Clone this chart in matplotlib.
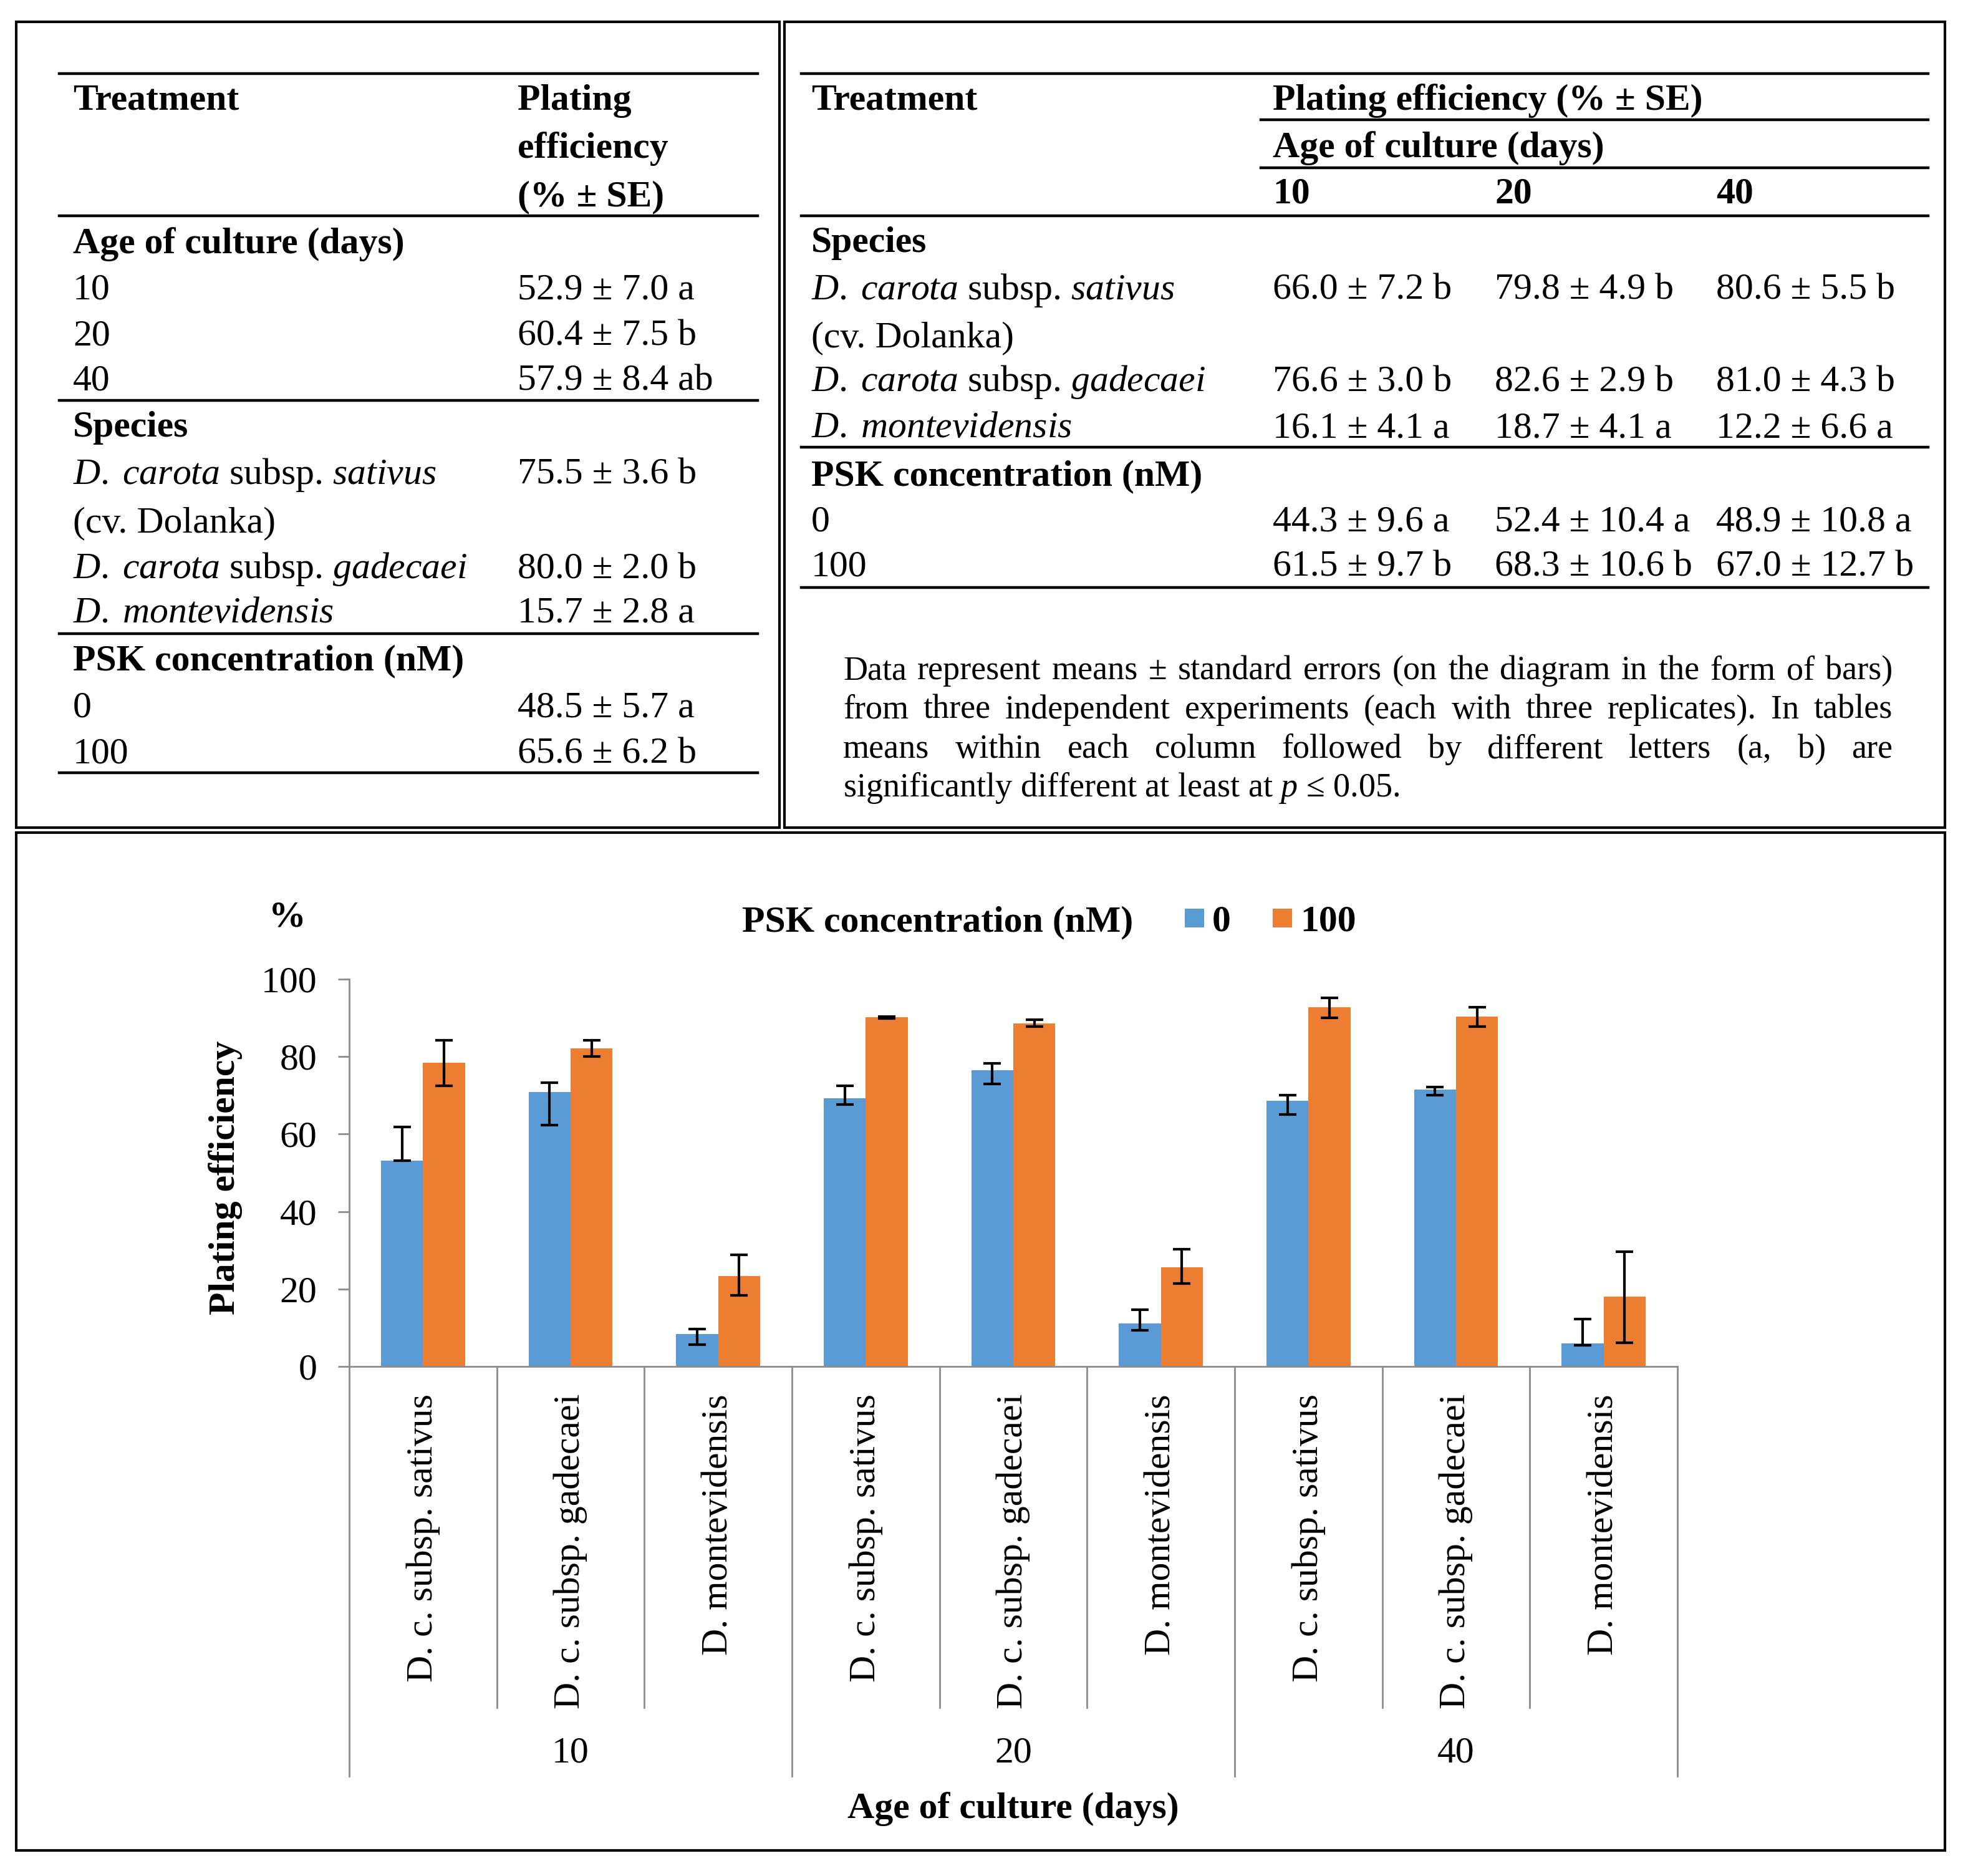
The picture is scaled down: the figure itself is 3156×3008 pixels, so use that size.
import numpy as np
import matplotlib
matplotlib.use('Agg')
import matplotlib.pyplot as plt
import matplotlib.transforms as mtransforms
from matplotlib.patches import Rectangle
from matplotlib.lines import Line2D

plt.rcParams['font.family'] = ['Liberation Serif', 'DejaVu Serif']
plt.rcParams['mathtext.fontset'] = 'custom'
plt.rcParams['mathtext.rm'] = 'Liberation Serif'
plt.rcParams['mathtext.it'] = 'Liberation Serif:italic'
plt.rcParams['mathtext.bf'] = 'Liberation Serif:bold'

# ---- chart data ----
ages = ['10', '20', '40']
species_short = ['D. c. subsp. sativus', 'D. c. subsp. gadecaei', 'D. montevidensis']
psk_levels = ['0', '100']
psk0 = [53.2, 70.8, 8.3, 69.3, 76.5, 11.1, 68.6, 71.5, 5.9]
psk100 = [78.5, 82.1, 23.3, 90.1, 88.6, 25.6, 92.7, 90.3, 18.0]
err0_minus = [0.0, 8.5, 2.7, 1.6, 3.5, 1.8, 3.6, 1.5, 0.5]
err0_plus = [8.6, 2.5, 1.4, 3.1, 1.8, 3.6, 1.5, 0.7, 6.3]
err100_minus = [6.0, 2.1, 5.0, 0.3, 0.8, 4.2, 2.7, 2.5, 11.9]
err100_plus = [5.7, 2.1, 5.5, 0.3, 1.0, 4.6, 2.5, 2.5, 11.7]

# ---- table data ----
species_long = [r'$\mathit{D.\;carota}$ subsp. $\mathit{sativus}$',
                r'$\mathit{D.\;carota}$ subsp. $\mathit{gadecaei}$',
                r'$\mathit{D.\;montevidensis}$']
left_age_vals = ['52.9 ± 7.0 a', '60.4 ± 7.5 b', '57.9 ± 8.4 ab']
left_species_vals = ['75.5 ± 3.6 b', '80.0 ± 2.0 b', '15.7 ± 2.8 a']
left_psk_vals = ['48.5 ± 5.7 a', '65.6 ± 6.2 b']
right_species_vals = [['66.0 ± 7.2 b', '79.8 ± 4.9 b', '80.6 ± 5.5 b'],
                      ['76.6 ± 3.0 b', '82.6 ± 2.9 b', '81.0 ± 4.3 b'],
                      ['16.1 ± 4.1 a', '18.7 ± 4.1 a', '12.2 ± 6.6 a']]
right_psk_vals = [['44.3 ± 9.6 a', '52.4 ± 10.4 a', '48.9 ± 10.8 a'],
                  ['61.5 ± 9.7 b', '68.3 ± 10.6 b', '67.0 ± 12.7 b']]
footnote = ['Data represent means ± standard errors (on the diagram in the form of bars)',
            'from three independent experiments (each with three replicates). In tables',
            'means within each column followed by different letters (a, b) are']
footnote_last = r'significantly different at least at $\mathit{p}$ ≤ 0.05.'

blue, orange, grey = '#5B9BD5', '#ED7D31', '#8C8C8C'

W, H = 3156, 3008
fig = plt.figure(figsize=(W / 100, H / 100), dpi=100)


def P(x, y):
    return x / W, 1 - y / H


def txt(x, y, s, size=43, **kw):
    kw.setdefault('va', 'baseline')
    return fig.text(*P(x, y), s, fontsize=size, **kw)


def hline(x0, x1, y, lw=3.2):
    fig.add_artist(Line2D([x0 / W, x1 / W], [1 - y / H, 1 - y / H], lw=lw,
                          color='black', transform=fig.transFigure))


def box(x0, y0, x1, y1):
    fig.add_artist(Rectangle(P(x0, y1), (x1 - x0) / W, (y1 - y0) / H, fill=False,
                             lw=3, ec='black', transform=fig.transFigure))


def justify(y, line, x0, x1, size=39):
    r = fig.canvas.get_renderer()
    ts = [txt(x0, y, w, size) for w in line.split()]
    ws = [t.get_window_extent(r).width for t in ts]
    gap = (x1 - x0 - sum(ws)) / (len(ws) - 1)
    x = x0
    for t, w in zip(ts, ws):
        t.set_position(P(x, y))
        x += w + gap


# frames
box(26, 35, 1250, 1327)
box(1258, 35, 3119, 1327)
box(26, 1335, 3119, 2967)

# ---- left table ----
for y in [118, 346, 642, 1016, 1239]:
    hline(95, 1215, y)
c1, c2 = 117, 830
txt(c1, 176, 'Treatment', fontweight='bold')
txt(c2, 176, 'Plating', fontweight='bold')
txt(c2, 253, 'efficiency', fontweight='bold')
txt(c2, 330, '(% ± SE)', fontweight='bold')
txt(c1, 406, 'Age of culture (days)', fontweight='bold')
for a, v, y in zip(ages, left_age_vals, [480, 553, 625]):
    txt(c1, y, a)
    txt(c2, y, v)
txt(c1, 700, 'Species', fontweight='bold')
for s, v, y in zip(species_long, left_species_vals, [776, 927, 998]):
    txt(c1, y, s)
    txt(c2, y, v)
txt(c1, 853, '(cv. Dolanka)')
txt(c1, 1074, 'PSK concentration (nM)', fontweight='bold')
for p, v, y in zip(psk_levels, left_psk_vals, [1150, 1224]):
    txt(c1, y, p)
    txt(c2, y, v)

# ---- right table ----
for y in [118, 346, 717, 942]:
    hline(1285, 3092, y)
for y in [192, 269]:
    hline(2022, 3092, y)
r1 = 1301
rc = [2041, 2397, 2752]
txt(r1, 176, 'Treatment', fontweight='bold')
txt(rc[0], 176, 'Plating efficiency (% ± SE)', fontweight='bold')
txt(rc[0], 252, 'Age of culture (days)', fontweight='bold')
for a, x in zip(ages, rc):
    txt(x, 326, a, fontweight='bold')
txt(r1, 404, 'Species', fontweight='bold')
for s, vals, y in zip(species_long, right_species_vals, [480, 627, 701]):
    txt(r1, y, s)
    for v, x in zip(vals, rc):
        txt(x, y, v)
txt(r1, 556, '(cv. Dolanka)')
txt(r1, 778, 'PSK concentration (nM)', fontweight='bold')
for p, vals, y in zip(psk_levels, right_psk_vals, [851, 923]):
    txt(r1, y, p)
    for v, x in zip(vals, rc):
        txt(x, y, v)

for line, y in zip(footnote, [1089, 1152, 1215]):
    justify(y, line, 1352, 3035)
txt(1352, 1277, footnote_last, size=39)

# ---- bar chart ----
ax = fig.add_axes([560 / W, 1 - 2191 / H, 2130 / W, 621 / H])
x = np.arange(len(psk0))
bw = 0.285
ekw = dict(ecolor='black', elinewidth=3, capsize=10, capthick=3)
bars0 = ax.bar(x - bw / 2, psk0, bw, color=blue, yerr=[err0_minus, err0_plus], error_kw=ekw)
bars100 = ax.bar(x + bw / 2, psk100, bw, color=orange, yerr=[err100_minus, err100_plus], error_kw=ekw)
ax.set_xlim(-0.5, len(psk0) - 0.5)
ax.set_ylim(0, 100)
ax.set_yticks(range(0, 101, 20))
ax.set_xticks([])
ax.tick_params(axis='y', direction='out', length=13, width=2, color=grey, labelsize=43, pad=24)
for s in ['top', 'right']:
    ax.spines[s].set_visible(False)
for s in ['left', 'bottom']:
    ax.spines[s].set_color(grey)
    ax.spines[s].set_linewidth(2)

trans = mtransforms.blended_transform_factory(ax.transData, ax.transAxes)
n = len(species_short)
for k in range(len(psk0) + 1):
    xb = k - 0.5
    yb = -1.058 if k % n == 0 else -0.881
    ax.plot([xb, xb], [0, yb], color=grey, lw=2, transform=trans, clip_on=False)
for i in x:
    ax.text(i, -0.071, species_short[i % n], rotation=90, ha='center', va='top',
            fontsize=43, transform=trans)
for g, a in enumerate(ages):
    ax.text(g * n + (n - 1) / 2, -1.0, a, ha='center', va='center', fontsize=43, transform=trans)
ax.text(0.5, -1.142, 'Age of culture (days)', ha='center', va='center', fontsize=43,
        fontweight='bold', transform=ax.transAxes)

fig.text(*P(362, 1888), 'Plating efficiency', rotation=90, ha='center', va='center',
         fontsize=43, fontweight='bold')
txt(461, 1486, '%', ha='center', fontweight='bold')

# legend
txt(1190, 1493, 'PSK concentration (nM)', fontweight='bold')
for bars, lab, x0 in [(bars0, psk_levels[0], 1900), (bars100, psk_levels[1], 2041)]:
    fig.add_artist(Rectangle(P(x0, 1487), 31 / W, 30 / H, transform=fig.transFigure,
                             facecolor=bars.patches[0].get_facecolor(), lw=0))
    txt(x0 + 44, 1492, lab, fontweight='bold')

fig.savefig('out.png', dpi=100, facecolor='white')
